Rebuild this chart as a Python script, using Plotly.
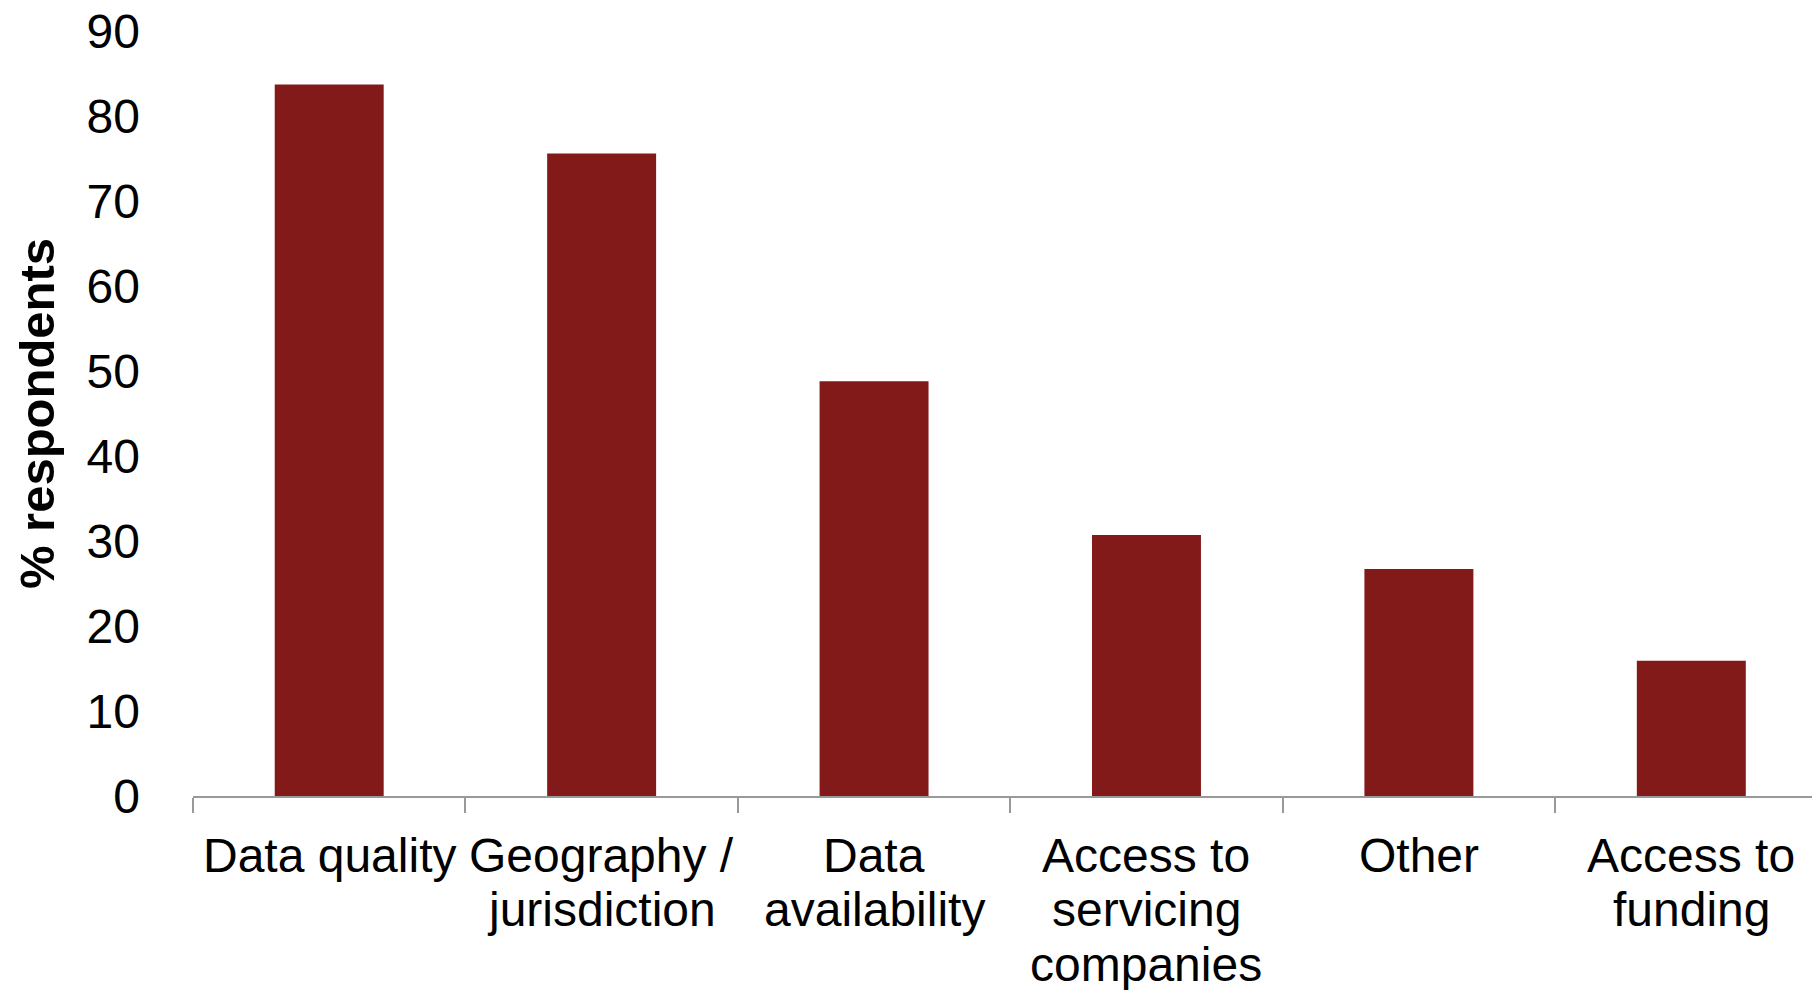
import plotly.graph_objects as go

categories = ["Data quality", "Geography / jurisdiction", "Data availability",
              "Access to servicing companies", "Other", "Access to funding"]
label_lines = [["Data quality"], ["Geography /", "jurisdiction"], ["Data", "availability"],
               ["Access to", "servicing", "companies"], ["Other"], ["Access to", "funding"]]
values = [83.7, 75.6, 48.8, 30.7, 26.7, 15.9]
y_ticks = [0, 10, 20, 30, 40, 50, 60, 70, 80, 90]

FONT = "Liberation Sans, Arial, sans-serif"

fig = go.Figure(go.Bar(
    x=categories, y=values,
    marker=dict(color="#831A1A", line=dict(width=0)),
    width=0.4,
))

FIRST_LINE = 59
LINE_STEP = 54.5
for cat, lines in zip(categories, label_lines):
    for i, ln in enumerate(lines):
        fig.add_annotation(
            x=cat, xref="x", y=0, yref="paper",
            text=ln, showarrow=False,
            xanchor="center", yanchor="middle",
            yshift=-(FIRST_LINE + i * LINE_STEP),
            font=dict(size=48, family=FONT, color="black"),
        )

fig.update_layout(
    width=1812, height=990,
    margin=dict(l=193, r=0, t=31, b=194),
    paper_bgcolor="white", plot_bgcolor="white",
    showlegend=False,
    font=dict(family=FONT, size=48, color="black"),
)
fig.update_xaxes(
    range=[-0.5, 5.443],
    showline=True, linecolor="#999999", linewidth=1.5,
    ticks="outside", tickson="boundaries", ticklen=15, tickcolor="#999999", tickwidth=1.5,
    showgrid=False, zeroline=False, showticklabels=False,
    automargin=False,
)
fig.update_yaxes(
    range=[0, 90], tickvals=y_ticks,
    showline=False, showgrid=False, zeroline=False,
    ticks="", ticklabelstandoff=52,
    tickfont=dict(size=48, family=FONT, color="black"),
    title=dict(text="<b>% respondents</b>", font=dict(size=49, family=FONT, color="black"), standoff=16),
    automargin=False,
)

fig.write_html("out.html")
